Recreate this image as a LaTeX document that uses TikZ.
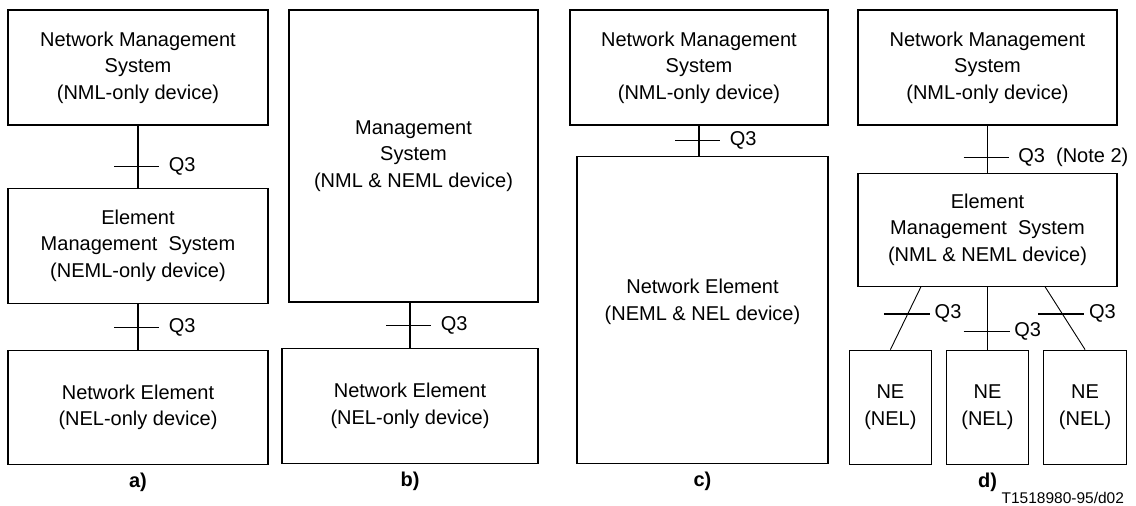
\documentclass[tikz,border=0pt]{standalone}
\usepackage{fontspec}
\setmainfont{Liberation Sans}
\usetikzlibrary{positioning}

\begin{document}
\begin{tikzpicture}[x=1pt, y=1pt, inner sep=0pt, font=\fontsize{20}{26.5}\selectfont]
	\tikzstyle{box}=[draw=black, line width=1.1pt, align=center, minimum width=260pt, minimum height=115pt]
	\tikzstyle{conn}=[line width=1.7pt]
	\tikzstyle{slant}=[line width=0.9pt]
	\tikzstyle{tick}=[line width=1.7pt]
	\tikzstyle{q3}=[anchor=west, inner sep=0pt]
	\tikzstyle{caption}=[font=\fontsize{20}{24}\selectfont\bfseries]

	\useasboundingbox (0,0) rectangle (1136,-506);

	% a)
	\node[box] (nmsA) at (138,-67.5) {Network Management\\System\\(NML-only device)};
	\node[box] (emsA) [below=62pt of nmsA] {Element\\Management~~System\\(NEML-only device)};
	\node[box, minimum height=114pt] (neA) [below=46pt of emsA] {Network Element\\(NEL-only device)};
	\node[caption] (capA) at ([yshift=-18pt]neA.south) {a)};

	% b)
	\node[box, minimum width=249pt, minimum height=292pt] (msB) at (413.5,-156) {Management\\System\\(NML \& NEML device)};
	\node[box, minimum width=256pt] (neB) [below=45pt of msB, xshift=-3.5pt] {Network Element\\(NEL-only device)};
	\node[caption] (capB) at ([yshift=-18pt]neB.south) {b)};

	% c)
	\node[box, minimum width=258pt] (nmsC) at (699,-67.5) {Network Management\\System\\(NML-only device)};
	\node[box, minimum width=251pt, minimum height=307pt] (neC) [below=30pt of nmsC, xshift=3.5pt] {};
	\node (neCtext) [align=center] at ([yshift=8pt]neC.center) {Network Element\\(NEML \& NEL device)};
	\node[caption] (capC) at ([yshift=-18pt]neC.south) {c)};

	% d)
	\node[box, minimum width=259pt] (nmsD) at (987.5,-67.5) {Network Management\\System\\(NML-only device)};
	\node[box, minimum width=259pt, minimum height=113pt] (emsD) [below=47pt of nmsD] {Element\\Management~~System\\(NML \& NEML device)};
	\node[box, minimum width=82pt, minimum height=114pt] (neD2) [below=63pt of emsD] {NE\\(NEL)};
	\node[box, minimum width=82pt, minimum height=114pt] (neD1) [left=14pt of neD2] {NE\\(NEL)};
	\node[box, minimum width=83pt, minimum height=114pt] (neD3) [right=14pt of neD2] {NE\\(NEL)};
	\node[caption] (capD) at ([yshift=-18pt]neD2.south) {d)};
	\node[anchor=east, font=\fontsize{15.5}{18}\selectfont] (ref) at ([xshift=-3pt, yshift=-33pt]neD3.south east) {T1518980-95/d02};

	% Q3 links
	\draw[conn] (nmsA) -- coordinate[pos=0.66] (qA1) (emsA);
	\draw[conn] (emsA) -- coordinate[pos=0.52] (qA2) (neA);
	\draw[conn] (msB.south -| neB.north) -- coordinate[pos=0.51] (qB) (neB.north);
	\draw[conn] (nmsC.south) -- coordinate[pos=0.5] (qC) (nmsC.south |- neC.north);
	\draw[conn] (nmsD) -- coordinate[pos=0.68] (qD) (emsD);
	\draw[slant] ([xshift=-66.5pt]emsD.south) -- coordinate[pos=0.43] (qD1) (neD1.north);
	\draw[conn] (emsD) -- coordinate[pos=0.71] (qD2) (neD2);
	\draw[slant] ([xshift=57.5pt]emsD.south) -- coordinate[pos=0.43] (qD3) (neD3.north);

	\foreach \q in {qA1,qA2,qB,qC}
		\draw[tick] ([xshift=-24pt]\q) -- ([xshift=21pt]\q) node[q3, xshift=9pt] {Q3};
	\draw[tick] ([xshift=-24pt]qD) -- ([xshift=21pt]qD) node[q3, xshift=9pt] {Q3~~(Note 2)};
	\foreach \q in {qD1,qD2,qD3}
		\draw[tick] ([xshift=-24pt]\q) -- ([xshift=22pt]\q) node[q3, xshift=4pt] {Q3};
\end{tikzpicture}
\end{document}
